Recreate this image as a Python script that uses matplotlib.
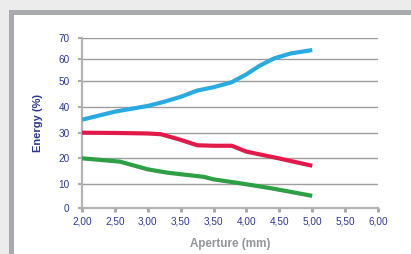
import numpy as np
import matplotlib
matplotlib.use("Agg")
import matplotlib.pyplot as plt
from matplotlib.patches import Rectangle
from matplotlib import font_manager

# ---- data ----
x_tick_labels = ["2,00", "2,50", "3,00", "3,50", "3,50", "4,00", "4,50", "5,00", "5,50", "6,00"]
y_ticks = [0, 10, 20, 30, 40, 50, 60, 70]

blue_x = [0, 1, 2, 2.5, 3, 3.5, 4, 4.55, 5, 5.4, 5.85, 6.35, 7]
blue_y = [35, 38.1, 40.3, 41.9, 43.8, 46.2, 47.5, 49.4, 53, 57.0, 60.5, 62.8, 64.4]

red_x = [0, 1, 2, 2.4, 3, 3.5, 4, 4.55, 5, 5.9, 7]
red_y = [30, 29.9, 29.7, 29.4, 27.2, 25.1, 24.9, 24.9, 22.6, 20.2, 17.1]

green_x = [0, 1.15, 2, 2.6, 3, 3.7, 4, 4.8, 5.75, 7]
green_y = [20, 18.7, 15.7, 14.4, 13.8, 12.8, 11.8, 10.3, 8.2, 5]

# ---- fonts ----
names = {f.name for f in font_manager.fontManager.ttflist}
narrow = "Liberation Sans Narrow" if "Liberation Sans Narrow" in names else "Liberation Sans"
plt.rcParams['font.family'] = ['Liberation Sans', 'DejaVu Sans']

W, H = 411, 254
fig = plt.figure(figsize=(W / 100, H / 100), dpi=100)
fig.patch.set_facecolor('#ececec')
fig.patches.append(Rectangle((9 / W, 0), 1, 1 - 10 / H, transform=fig.transFigure,
                             facecolor='#a9aaad', edgecolor='none', zorder=-20))
fig.patches.append(Rectangle((14 / W, 0), 1, 1 - 15 / H, transform=fig.transFigure,
                             facecolor='white', edgecolor='none', zorder=-19))

ax = fig.add_axes([82 / W, 1 - 207.7 / H, (378 - 82) / W, (207.7 - 38.3) / H])
ax.set_facecolor('none')
ax.set_zorder(5)

# slightly non-uniform vertical spacing as in the reference
grid_vals = np.array(y_ticks, dtype=float)
grid_pos = np.array([0, 23.7, 49.4, 75.0, 101.0, 127.0, 148.4, 169.4])

def fwd(v):
    v = np.asarray(v, dtype=float)
    out = np.interp(v, grid_vals, grid_pos)
    out = np.where(v < grid_vals[0], grid_pos[0] + (v - grid_vals[0]) * 2.37, out)
    out = np.where(v > grid_vals[-1], grid_pos[-1] + (v - grid_vals[-1]) * 2.1, out)
    return out

def inv(p):
    p = np.asarray(p, dtype=float)
    out = np.interp(p, grid_pos, grid_vals)
    out = np.where(p < grid_pos[0], grid_vals[0] + (p - grid_pos[0]) / 2.37, out)
    out = np.where(p > grid_pos[-1], grid_vals[-1] + (p - grid_pos[-1]) / 2.1, out)
    return out

ax.set_yscale('function', functions=(fwd, inv))

lw = 3.0
kw = dict(linewidth=lw, solid_joinstyle='round', solid_capstyle='butt', zorder=3)
ax.plot(blue_x, blue_y, color='#29abe2', **kw)
ax.plot(red_x, red_y, color='#e21a4c', **kw)
ax.plot(green_x, green_y, color='#2d9f45', **kw)

ax.set_xlim(0, 9)
ax.set_ylim(0, 70)
ax.set_xticks(range(len(x_tick_labels)))
ax.set_xticklabels(x_tick_labels)
ax.set_yticks(y_ticks)
ax.set_yticklabels([str(v) for v in y_ticks])
ax.yaxis.set_minor_locator(matplotlib.ticker.NullLocator())

navy = '#2e3790'
ax.tick_params(axis='both', labelsize=7.2, labelcolor=navy, color='#a9aaad',
               length=3, direction='out')
ax.tick_params(axis='x', width=2.2, pad=3.5)
ax.tick_params(axis='y', width=1.5, pad=6)

ax.grid(axis='y', color='#9d9d9d', linewidth=1.0, zorder=1)
ax.set_axisbelow(True)
for s in ['top', 'right']:
    ax.spines[s].set_visible(False)
for s in ['left', 'bottom']:
    ax.spines[s].set_color('#b3b3b3')
    ax.spines[s].set_linewidth(1.6)

fig.text(37.5 / W, 1 - 123 / H, 'Energy (%)', rotation=90, ha='center', va='center',
         fontsize=8.0, fontweight='bold', color=navy, family=[narrow, 'DejaVu Sans'])
fig.text(230 / W, 1 - 244 / H, 'Aperture (mm)', ha='center', va='center',
         fontsize=8.4, fontweight='bold', color='#939598', family=[narrow, 'DejaVu Sans'])

fig.savefig('out.png', dpi=100, facecolor=fig.get_facecolor())
